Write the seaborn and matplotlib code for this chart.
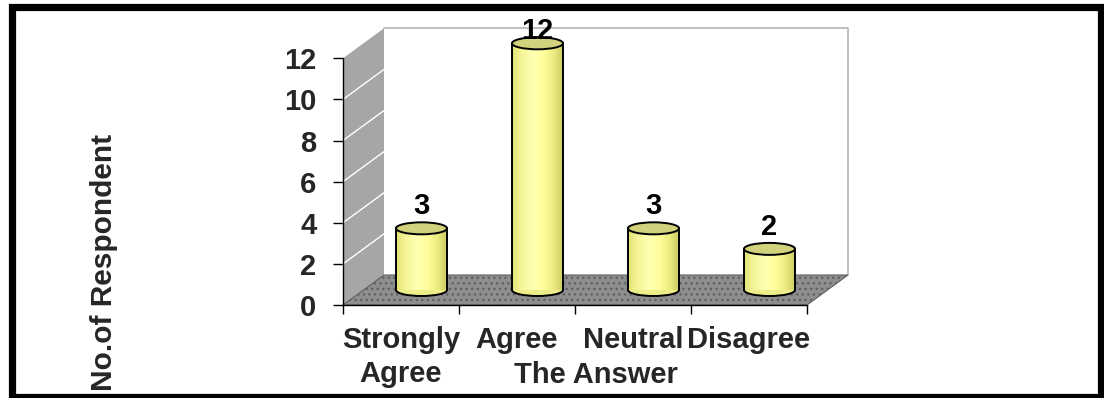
import numpy as np
import pandas as pd
import matplotlib
matplotlib.use("Agg")
import matplotlib.pyplot as plt
import seaborn as sns
from matplotlib.patches import Polygon, Ellipse, Rectangle
from matplotlib.colors import LinearSegmentedColormap

# ---- data ----
categories = ["Strongly\nAgree", "Agree", "Neutral", "Disagree"]
counts = [3, 12, 3, 2]
y_ticks = [0, 2, 4, 6, 8, 10, 12]
x_title = "The Answer"
y_title = "No.of Respondent"

sns.set_theme(style="white")
plt.rcParams['font.family'] = ['Liberation Sans', 'DejaVu Sans']
plt.rcParams['font.weight'] = 'bold'

W, H = 1104, 398
fig = plt.figure(figsize=(W / 100, H / 100), dpi=100)
fig.patch.set_facecolor("white")

# axes geometry in pixels
AX_L, AX_R, AX_B, AX_T = 343, 807, 305, 20
PX_PER_Y = (305 - 58.3) / 12.0
ax = fig.add_axes([AX_L / W, (H - AX_B) / H, (AX_R - AX_L) / W, (AX_B - AX_T) / H])
ax.patch.set_alpha(0)

n = len(categories)
PX_PER_X = (AX_R - AX_L) / n
ytop = (AX_B - AX_T) / PX_PER_Y
DX = 41 / PX_PER_X          # depth offset in data units
DY = 30 / PX_PER_Y

df = pd.DataFrame({"answer": categories, "count": counts})
sns.barplot(data=df, x="answer", y="count", ax=ax, width=0.44, color="#ffff99",
            saturation=1, edgecolor="none", zorder=3)

ax.set_xlim(-0.5, n - 0.5)
ax.set_ylim(0, ytop)

ymax = max(y_ticks)
x0, x1 = -0.5, n - 0.5

# back wall
back = Polygon([(x0 + DX, DY), (x1 + DX, DY), (x1 + DX, ymax + DY), (x0 + DX, ymax + DY)],
               closed=True, facecolor="white", edgecolor="none", zorder=0.5, clip_on=False)
ax.add_patch(back)
ax.plot([x0 + DX, x1 + DX, x1 + DX], [ymax + DY, ymax + DY, DY], color="#b5b5b5", lw=1.2,
        zorder=0.6, clip_on=False)

# side wall
side = Polygon([(x0, 0), (x0, ymax), (x0 + DX, ymax + DY), (x0 + DX, DY)], closed=True,
               facecolor="#a6a6a6", edgecolor="none", zorder=0.7, clip_on=False)
ax.add_patch(side)
for t in y_ticks[1:-1]:
    ax.plot([x0, x0 + DX], [t, t + DY], color="white", lw=1.0, zorder=0.8, clip_on=False)

# floor
floor = Polygon([(x0, 0), (x1, 0), (x1 + DX, DY), (x0 + DX, DY)], closed=True,
                facecolor="#8e8e8e", edgecolor="#606060", lw=0.8, hatch="...",
                zorder=1, clip_on=False)
ax.add_patch(floor)

# cylinders
cyl_cmap = LinearSegmentedColormap.from_list(
    "cyl", ["#e2e276", "#f6f69a", "#ffffb4", "#ffff9c", "#ecec82", "#c8c85e"])
grad = np.linspace(0, 1, 256).reshape(1, -1)
ell_h = 12 / PX_PER_Y
label_cap = (AX_B - 45) / PX_PER_Y
for p, v in zip(ax.patches[:n], counts):
    w = p.get_width()
    bx = p.get_x() + DX / 2
    by = DY / 2
    p.set_x(bx)
    p.set_y(by)
    cx = bx + w / 2
    ax.add_patch(Ellipse((cx, by), w, ell_h, facecolor="#eeee88", edgecolor="black",
                         lw=1.4, zorder=2.5))
    im = ax.imshow(grad, extent=[bx, bx + w, by, by + v], cmap=cyl_cmap, aspect="auto",
                   zorder=4, interpolation="bilinear")
    im.set_clip_path(p)
    ax.plot([bx, bx], [by, by + v], color="black", lw=1.4, zorder=5)
    ax.plot([bx + w, bx + w], [by, by + v], color="black", lw=1.4, zorder=5)
    ax.add_patch(Ellipse((cx, by + v), w, ell_h, facecolor="#d2d27c", edgecolor="black",
                         lw=1.4, zorder=6))
    ly = min(by + v + 8 / PX_PER_Y, label_cap)
    ax.text(cx, ly, f"{v}", ha="center", va="bottom", fontsize=21, fontweight="bold",
            color="black", zorder=7)

ax.set_xlim(-0.5, n - 0.5)
ax.set_ylim(0, ytop)

# spines / ticks
for s in ["top", "right"]:
    ax.spines[s].set_visible(False)
ax.spines["left"].set_bounds(0, ymax)
ax.spines["left"].set_color("black")
ax.spines["bottom"].set_color("black")
ax.spines["left"].set_linewidth(1.0)
ax.spines["bottom"].set_linewidth(1.0)

ax.set_yticks(y_ticks)
ax.set_yticklabels([str(t) for t in y_ticks], fontsize=21, fontweight="bold")
ax.tick_params(axis="y", which="major", left=True, length=7, width=1, color="black",
               pad=12)

ax.set_xticks(np.arange(n + 1) - 0.5)
ax.set_xticklabels([])
ax.set_xticks(np.arange(n), minor=True)
ax.set_xticklabels(categories, minor=True, fontsize=21, fontweight="bold", linespacing=1.3)
ax.tick_params(axis="x", which="major", bottom=True, length=6.5, width=1, color="black")
ax.tick_params(axis="x", which="minor", bottom=True, length=0, pad=15)

ax.set_xlabel(x_title, fontsize=21, fontweight="bold")
ax.xaxis.set_label_coords((596 - AX_L) / (AX_R - AX_L), (AX_B - 375) / (AX_B - AX_T))
ax.xaxis.label.set_va("center")
ax.set_ylabel(y_title, fontsize=21.5, fontweight="bold")
ax.yaxis.set_label_coords((104 - AX_L) / (AX_R - AX_L), (AX_B - 262) / (AX_B - AX_T))
ax.yaxis.label.set_va("center")
ax.yaxis.label.set_ha("center")

# outer frame
frame = Rectangle((11.5 / W, 1.0 / H), (1101 - 11.5) / W, (391 - 1.0) / H,
                  transform=fig.transFigure, fill=False, edgecolor="black", lw=5.2,
                  zorder=10)
fig.add_artist(frame)

fig.savefig("out.png", dpi=100, facecolor="white")
